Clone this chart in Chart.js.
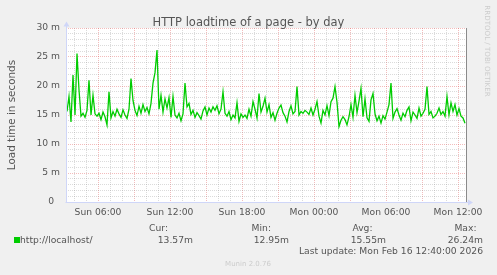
<!DOCTYPE html>
<html>
<head>
<meta charset="utf-8">
<script src="https://cdn.jsdelivr.net/npm/chart.js@4.4.1/dist/chart.umd.min.js"></script>
<style>
html,body{margin:0;padding:0;background:#f0f0f0;overflow:hidden}
canvas{display:block}
</style>
</head>
<body>
<canvas id="c" width="497" height="275"></canvas>
<script>
// ── HTTP LOADTIME (munin, by day) ──
const FONT='"DejaVu Sans", sans-serif';
const TEXT='#555555';
const GRID='rgba(143,143,143,0.32)';
const MGRID='rgba(224,80,80,0.38)';
const AXIS='#cfd6f8';

// minutes since Sun 00:00; window Sun 03:20 -> Mon 12:40
const xMin=200, xMax=2200;
const startMin=205, stepMin=10;
// load time in ms, one sample every 10 min
const loadtime=[
  15.6,18.2,13.8,21.9,15.0,25.6,19.3,14.8,15.3,14.6,
  15.8,21.0,15.0,18.4,15.2,14.8,15.3,14.2,15.5,14.7,
  13.3,19.0,14.5,15.6,14.8,16.0,15.2,14.6,15.9,15.0,
  14.4,16.0,21.3,17.5,15.8,14.9,16.5,15.3,16.8,15.6,
  16.3,15.2,17.0,20.5,22.3,26.2,16.0,18.4,15.5,17.8,
  16.2,18.0,14.6,18.2,15.0,14.5,15.3,14.0,15.2,20.5,
  16.4,17.0,15.1,15.8,14.6,15.4,14.9,14.3,15.7,16.4,
  15.0,16.2,15.5,16.4,15.8,16.6,15.2,16.0,19.0,15.3,
  14.8,15.6,14.2,15.0,14.5,17.1,13.9,15.2,14.6,15.0,
  14.4,16.0,14.8,17.3,16.0,14.5,18.7,15.5,16.5,17.9,
  15.5,16.8,14.6,15.4,14.1,15.3,16.2,16.7,15.4,14.8,
  13.8,15.6,16.6,15.2,15.6,19.9,15.0,15.6,15.3,15.8,
  15.5,15.1,16.2,15.0,16.0,17.3,14.8,13.6,15.8,15.0,
  16.6,14.9,17.3,17.9,19.9,17.2,13.0,14.1,14.7,14.2,
  13.3,14.7,16.8,14.6,18.4,15.4,17.4,19.6,14.7,17.8,
  14.5,13.9,17.6,18.7,15.2,14.0,14.8,13.6,14.9,14.3,
  15.5,16.8,20.5,14.4,15.5,16.1,15.0,14.1,15.3,14.7,
  15.8,16.4,14.0,15.5,15.0,14.4,16.2,14.8,15.3,16.0,
  19.9,15.1,15.6,14.5,14.8,15.3,16.2,15.1,15.6,14.8,
  18.2,15.0,17.1,15.6,16.8,15.0,16.1,14.8,14.5,13.57
];
const xLabelTimes=[360,720,1080,1440,1800,2160];
const xLabels=['Sun 06:00','Sun 12:00','Sun 18:00','Mon 00:00','Mon 06:00','Mon 12:00'];
const yMax=30;
const statHeads=['Cur:','Min:','Avg:','Max:'];
const statVals=['13.57m','12.95m','15.55m','26.24m'];
const seriesName='http://localhost/';
const lastUpdate='Last update: Mon Feb 16 12:40:00 2026';

const points=loadtime.map((v,i)=>({x:startMin+i*stepMin,y:v}));

// hourly grid, red every 3h / every 5 ms
const xGridTimes=[];for(let t=240;t<=2160;t+=60)xGridTimes.push(t);
const yGridVals=[];for(let v=0;v<=yMax;v++)yGridVals.push(v);

const muninDecor={
  id:'muninDecor',
  beforeDraw(chart){
    const {ctx,chartArea:a}=chart;
    ctx.save();
    ctx.fillStyle='#f0f0f0';ctx.fillRect(0,0,chart.width,chart.height);
    ctx.fillStyle='#ffffff';ctx.fillRect(a.left,a.top,a.right-a.left,a.bottom-a.top);
    ctx.restore();
  },
  afterDraw(chart){
    const {ctx,chartArea:a}=chart;
    ctx.save();
    // right edge
    ctx.strokeStyle='#8a8a8a';ctx.lineWidth=1;
    ctx.beginPath();ctx.moveTo(a.right+0.5,a.top);ctx.lineTo(a.right+0.5,a.bottom+1);ctx.stroke();
    // axes + arrows
    ctx.strokeStyle=AXIS;ctx.fillStyle=AXIS;
    ctx.beginPath();ctx.moveTo(a.left+0.5,a.bottom+0.5);ctx.lineTo(a.left+0.5,a.top-2);ctx.stroke();
    ctx.beginPath();ctx.moveTo(a.left-0.5,a.bottom+0.5);ctx.lineTo(a.right+2,a.bottom+0.5);ctx.stroke();
    ctx.beginPath();ctx.moveTo(a.left+0.5,a.top-6.5);ctx.lineTo(a.left+3.5,a.top-1.5);ctx.lineTo(a.left-2.5,a.top-1.5);ctx.closePath();ctx.fill();
    ctx.beginPath();ctx.moveTo(a.right+7,a.bottom+0.5);ctx.lineTo(a.right+2,a.bottom-2.5);ctx.lineTo(a.right+2,a.bottom+3.5);ctx.closePath();ctx.fill();
    // title
    ctx.fillStyle=TEXT;ctx.textBaseline='alphabetic';
    ctx.font='11.5px '+FONT;ctx.textAlign='center';
    ctx.fillText('HTTP loadtime of a page - by day',248.5,26);
    // legend
    ctx.font='9.2px '+FONT;
    ctx.fillStyle='#00cc00';ctx.fillRect(14,237,6,6);
    ctx.fillStyle=TEXT;ctx.textAlign='left';
    ctx.fillText(seriesName,20,243);
    const headR=[168,271,372.5,476.5], valR=[193,289,386,483];
    ctx.textAlign='right';
    statHeads.forEach((h,i)=>ctx.fillText(h,headR[i],230.5));
    statVals.forEach((v,i)=>ctx.fillText(v,valR[i],243));
    ctx.fillText(lastUpdate,483,254);
    // watermarks
    ctx.fillStyle='#cccccc';ctx.font='7px '+FONT;ctx.textAlign='center';
    ctx.fillText('Munin 2.0.76',248,266);
    ctx.translate(486.5,51);ctx.rotate(Math.PI/2);
    ctx.textBaseline='middle';ctx.font='7.1px '+FONT;
    ctx.fillText('RRDTOOL / TOBI OETIKER',0,0);
    ctx.restore();
  }
};

new Chart(document.getElementById('c'),{
  type:'line',
  data:{datasets:[{label:seriesName,data:points,borderColor:'#00cc00',borderWidth:1.3,pointRadius:0,tension:0,fill:false}]},
  options:{
    responsive:false,animation:false,devicePixelRatio:1,
    layout:{padding:{top:28,right:31,bottom:53,left:0}},
    plugins:{legend:{display:false},tooltip:{enabled:false},title:{display:false}},
    scales:{
      x:{type:'linear',min:xMin,max:xMax,
        afterBuildTicks:s=>{s.ticks=xGridTimes.map(v=>({value:v}))},
        afterFit:s=>{s.height=20},
        ticks:{autoSkip:false,maxRotation:0,padding:5,color:TEXT,font:{family:FONT,size:9.2},
          callback:v=>{const k=xLabelTimes.indexOf(v);return k<0?'':xLabels[k]}},
        grid:{drawTicks:false,color:c=>c.tick&&c.tick.value%180===0?MGRID:GRID},
        border:{display:false,dash:[1,1]}
      },
      y:{min:0,max:yMax,
        afterBuildTicks:s=>{s.ticks=yGridVals.map(v=>({value:v}))},
        afterFit:s=>{s.width=66},
        ticks:{autoSkip:false,padding:6,color:TEXT,font:{family:FONT,size:9.2},
          callback:v=>v%5!==0?'':(v===0?'0  ':v+' m')},
        grid:{drawTicks:false,color:c=>c.tick&&c.tick.value%5===0?MGRID:GRID},
        border:{display:false,dash:[1,1]},
        title:{display:true,text:'Load time in seconds',color:TEXT,font:{family:FONT,size:10.4},padding:{top:6.5,bottom:0}}
      }
    }
  },
  plugins:[muninDecor]
});
</script>
</body>
</html>
